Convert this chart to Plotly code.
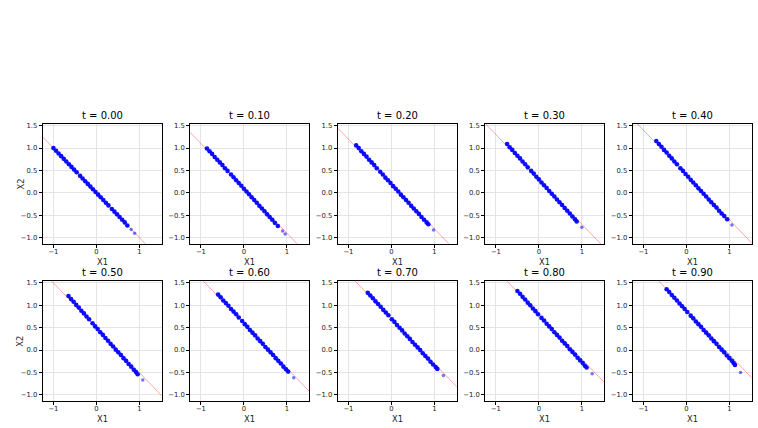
import plotly.graph_objects as go

# ---------------- data ----------------
t_values = [0.00, 0.10, 0.20, 0.30, 0.40, 0.50, 0.60, 0.70, 0.80, 0.90]
titles = ["t = %.2f" % t for t in t_values]

x1_t00 = [-1.00, -0.94, -0.88, -0.82, -0.76, -0.70, -0.64, -0.58, -0.52, -0.46, -0.38, -0.32, -0.26, -0.20, -0.14, -0.08, -0.02, 0.04, 0.10, 0.16, 0.22, 0.28, 0.36, 0.42, 0.48, 0.54, 0.60, 0.66, 0.72, 0.81, 0.89]
x2_t00 = [1.00, 0.94, 0.88, 0.82, 0.76, 0.70, 0.64, 0.58, 0.52, 0.46, 0.38, 0.32, 0.26, 0.20, 0.14, 0.08, 0.02, -0.04, -0.10, -0.16, -0.22, -0.28, -0.36, -0.42, -0.48, -0.54, -0.60, -0.66, -0.73, -0.82, -0.90]

x1_t01 = [-0.86, -0.80, -0.74, -0.68, -0.62, -0.56, -0.50, -0.44, -0.38, -0.30, -0.24, -0.18, -0.12, -0.06, 0.00, 0.06, 0.12, 0.18, 0.24, 0.30, 0.36, 0.42, 0.48, 0.54, 0.60, 0.66, 0.72, 0.79, 0.90, 0.96]
x2_t01 = [0.99, 0.93, 0.87, 0.80, 0.74, 0.68, 0.62, 0.55, 0.49, 0.41, 0.35, 0.28, 0.22, 0.16, 0.09, 0.03, -0.03, -0.10, -0.16, -0.22, -0.29, -0.35, -0.41, -0.48, -0.54, -0.60, -0.67, -0.74, -0.85, -0.92]

x1_t02 = [-0.82, -0.76, -0.70, -0.64, -0.58, -0.52, -0.46, -0.40, -0.34, -0.26, -0.20, -0.14, -0.08, -0.02, 0.04, 0.10, 0.16, 0.22, 0.28, 0.34, 0.40, 0.46, 0.52, 0.58, 0.64, 0.70, 0.76, 0.82, 0.86, 0.98]
x2_t02 = [1.06, 1.00, 0.93, 0.87, 0.81, 0.74, 0.68, 0.62, 0.55, 0.47, 0.41, 0.34, 0.28, 0.22, 0.15, 0.09, 0.03, -0.04, -0.10, -0.16, -0.22, -0.29, -0.35, -0.41, -0.47, -0.54, -0.60, -0.66, -0.70, -0.83]

x1_t03 = [-0.74, -0.68, -0.62, -0.56, -0.50, -0.44, -0.38, -0.32, -0.26, -0.18, -0.12, -0.06, 0.00, 0.06, 0.12, 0.18, 0.24, 0.30, 0.36, 0.42, 0.48, 0.54, 0.60, 0.66, 0.72, 0.78, 0.84, 0.88, 1.00]
x2_t03 = [1.09, 1.02, 0.96, 0.89, 0.83, 0.77, 0.70, 0.64, 0.57, 0.49, 0.43, 0.36, 0.30, 0.23, 0.17, 0.11, 0.04, -0.02, -0.08, -0.15, -0.21, -0.27, -0.34, -0.40, -0.46, -0.53, -0.59, -0.64, -0.77]

x1_t04 = [-0.70, -0.64, -0.58, -0.52, -0.46, -0.40, -0.34, -0.28, -0.22, -0.14, -0.08, -0.02, 0.04, 0.10, 0.16, 0.22, 0.28, 0.34, 0.40, 0.46, 0.52, 0.58, 0.64, 0.70, 0.76, 0.82, 0.88, 0.95, 1.06]
x2_t04 = [1.16, 1.09, 1.03, 0.96, 0.90, 0.83, 0.77, 0.70, 0.64, 0.55, 0.49, 0.42, 0.36, 0.29, 0.23, 0.17, 0.10, 0.04, -0.02, -0.08, -0.15, -0.21, -0.27, -0.33, -0.40, -0.46, -0.52, -0.59, -0.72]

x1_t05 = [-0.65, -0.59, -0.53, -0.47, -0.41, -0.35, -0.29, -0.23, -0.17, -0.09, -0.03, 0.03, 0.09, 0.15, 0.21, 0.27, 0.33, 0.39, 0.45, 0.51, 0.57, 0.63, 0.69, 0.75, 0.81, 0.87, 0.92, 0.96, 1.08]
x2_t05 = [1.21, 1.14, 1.08, 1.01, 0.95, 0.88, 0.82, 0.75, 0.69, 0.60, 0.53, 0.47, 0.40, 0.34, 0.27, 0.21, 0.14, 0.08, 0.01, -0.05, -0.11, -0.18, -0.24, -0.31, -0.37, -0.44, -0.49, -0.54, -0.67]

x1_t06 = [-0.60, -0.54, -0.48, -0.42, -0.36, -0.30, -0.24, -0.18, -0.12, -0.04, 0.02, 0.08, 0.14, 0.20, 0.26, 0.32, 0.38, 0.44, 0.50, 0.56, 0.62, 0.68, 0.74, 0.80, 0.86, 0.92, 0.98, 1.03, 1.16]
x2_t06 = [1.24, 1.18, 1.11, 1.05, 0.99, 0.92, 0.86, 0.80, 0.73, 0.65, 0.58, 0.52, 0.45, 0.39, 0.33, 0.26, 0.20, 0.14, 0.07, 0.01, -0.05, -0.11, -0.18, -0.24, -0.30, -0.37, -0.43, -0.48, -0.62]

x1_t07 = [-0.55, -0.49, -0.43, -0.37, -0.31, -0.25, -0.19, -0.13, -0.07, 0.01, 0.07, 0.13, 0.19, 0.25, 0.31, 0.37, 0.43, 0.49, 0.55, 0.61, 0.67, 0.73, 0.79, 0.85, 0.91, 0.97, 1.03, 1.07, 1.21]
x2_t07 = [1.28, 1.22, 1.16, 1.09, 1.03, 0.97, 0.90, 0.84, 0.78, 0.69, 0.63, 0.56, 0.50, 0.44, 0.37, 0.31, 0.25, 0.18, 0.12, 0.06, 0.00, -0.07, -0.13, -0.19, -0.26, -0.32, -0.38, -0.42, -0.57]

x1_t08 = [-0.50, -0.44, -0.38, -0.32, -0.26, -0.20, -0.14, -0.08, -0.02, 0.06, 0.12, 0.18, 0.24, 0.30, 0.36, 0.42, 0.48, 0.54, 0.60, 0.66, 0.72, 0.78, 0.84, 0.90, 0.96, 1.02, 1.07, 1.11, 1.24]
x2_t08 = [1.32, 1.26, 1.19, 1.13, 1.06, 1.00, 0.93, 0.87, 0.80, 0.72, 0.66, 0.59, 0.53, 0.47, 0.40, 0.34, 0.28, 0.21, 0.15, 0.09, 0.02, -0.04, -0.10, -0.17, -0.23, -0.29, -0.35, -0.39, -0.53]

x1_t09 = [-0.46, -0.40, -0.34, -0.28, -0.22, -0.16, -0.10, -0.04, 0.02, 0.10, 0.16, 0.22, 0.28, 0.34, 0.40, 0.46, 0.52, 0.58, 0.64, 0.70, 0.76, 0.82, 0.88, 0.94, 1.00, 1.06, 1.10, 1.13, 1.26]
x2_t09 = [1.36, 1.30, 1.23, 1.17, 1.11, 1.04, 0.98, 0.92, 0.85, 0.77, 0.71, 0.64, 0.58, 0.52, 0.45, 0.39, 0.33, 0.26, 0.20, 0.14, 0.07, 0.01, -0.05, -0.12, -0.18, -0.24, -0.29, -0.33, -0.50]

x1_series = [x1_t00, x1_t01, x1_t02, x1_t03, x1_t04, x1_t05, x1_t06, x1_t07, x1_t08, x1_t09]
x2_series = [x2_t00, x2_t01, x2_t02, x2_t03, x2_t04, x2_t05, x2_t06, x2_t07, x2_t08, x2_t09]
# number of sparse outlying points at the lower-right end of each cloud
tail_counts = [2, 2, 1, 1, 1, 1, 1, 1, 1, 1]

# reference line x1 + x2 = t  (drawn across the panel)
line_x1 = [-1.6, 1.9]

x_ticks = [-1, 0, 1]
y_ticks = [-1.0, -0.5, 0.0, 0.5, 1.0, 1.5]
x_range = [-1.25, 1.52]
y_range = [-1.14, 1.54]

# ---------------- layout geometry ----------------
W, H = 758, 428
col_left = [42.7 + 147.5 * i for i in range(5)]
panel_w = 119
row_top = [122.5, 280.5]
panel_h = 120.5

FONT = "DejaVu Sans"

fig = go.Figure()
layout = dict(
    width=W, height=H, margin=dict(l=0, r=0, t=0, b=0),
    paper_bgcolor="white", plot_bgcolor="white",
    showlegend=False, font=dict(family=FONT, color="#222"),
)
annotations = []

for k in range(10):
    r, c = divmod(k, 5)
    idx = "" if k == 0 else str(k + 1)
    xa, ya = "x" + idx, "y" + idx
    x0 = col_left[c] / W
    x1 = (col_left[c] + panel_w) / W
    ytop = 1 - row_top[r] / H
    ybot = 1 - (row_top[r] + panel_h) / H
    t = t_values[k]

    fig.add_trace(go.Scatter(
        x=line_x1, y=[t - v for v in line_x1], mode="lines",
        line=dict(color="rgba(255,0,0,0.35)", width=1),
        xaxis=xa, yaxis=ya, hoverinfo="skip"))
    n = len(x1_series[k])
    nt = tail_counts[k]
    fig.add_trace(go.Scatter(
        x=x1_series[k][:n - nt], y=x2_series[k][:n - nt], mode="markers",
        marker=dict(color="#0000ff", size=4.6, opacity=0.95, line=dict(width=0)),
        xaxis=xa, yaxis=ya))
    fig.add_trace(go.Scatter(
        x=x1_series[k][n - nt:], y=x2_series[k][n - nt:], mode="markers",
        marker=dict(color="#0000ff", size=3.5, opacity=0.55, line=dict(width=0)),
        xaxis=xa, yaxis=ya))

    common = dict(showline=True, linecolor="black", linewidth=1, mirror=True,
                  ticks="outside", ticklen=3, tickwidth=1, tickcolor="black",
                  showgrid=True, gridcolor="#e4e4e4", gridwidth=1,
                  zeroline=False, tickfont=dict(size=6.8, family=FONT, color="#222"))
    layout["xaxis" + idx] = dict(common, domain=[x0, x1], range=x_range,
                                 tickvals=x_ticks, ticktext=["\u22121", "0", "1"],
                                 ticklabelstandoff=-2, anchor=ya)
    layout["yaxis" + idx] = dict(common, domain=[ybot, ytop], range=y_range,
                                 tickvals=y_ticks, tickformat=".1f",
                                 anchor=xa)

    annotations.append(dict(text=titles[k], xref="paper", yref="paper",
                            x=(x0 + x1) / 2, y=ytop, yanchor="bottom", xanchor="center",
                            yshift=2, borderpad=0, showarrow=False,
                            font=dict(size=10, family=FONT, color="black")))
    annotations.append(dict(text="X1", xref="paper", yref="paper",
                            x=(x0 + x1) / 2, y=ybot, yanchor="top", xanchor="center",
                            yshift=-12, borderpad=0, showarrow=False,
                            font=dict(size=8.3, family=FONT, color="#222")))
    if c == 0:
        annotations.append(dict(text="X2", xref="paper", yref="paper",
                                x=20.5 / W, y=(ybot + ytop) / 2, xanchor="center",
                                yanchor="middle", textangle=-90, borderpad=0,
                                showarrow=False,
                                font=dict(size=8.3, family=FONT, color="#222")))

layout["annotations"] = annotations
fig.update_layout(**layout)
fig.write_html("out.html")
